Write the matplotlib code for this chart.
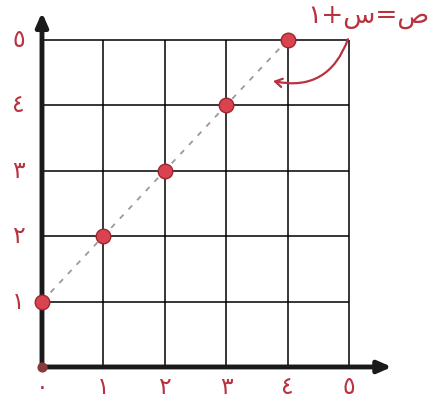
import matplotlib
matplotlib.use('Agg')
import matplotlib.pyplot as plt

# points of y = x + 1 as drawn on the grid
x_vals = [0, 1, 2, 3, 4]
y_vals = [1, 2, 3, 4, 5]
grid_ticks = [0, 1, 2, 3, 4, 5]
tick_labels = ['٠', '١', '٢', '٣', '٤', '٥']
equation = '١+س=ص'   # written in visual order (matplotlib has no bidi)

red = '#b8323f'

fig = plt.figure(figsize=(4.33, 4.04), dpi=100)
ax = fig.add_axes([0, 0, 1, 1])
ax.set_xlim(-0.684, 6.37)
ax.set_ylim(-0.566, 5.61)
ax.axis('off')

# grid cells
ax.vlines(grid_ticks[1:], 0, grid_ticks[-1], color='black', lw=1.1, zorder=1)
ax.hlines(grid_ticks[1:], 0, grid_ticks[-1], color='black', lw=1.1, zorder=1)

# main axes with arrow heads
ax.annotate('', xy=(5.7, 0), xytext=(-0.02, 0),
            arrowprops=dict(arrowstyle='-|>,head_length=0.8,head_width=0.35',
                            color='#1a1a1a', lw=3.5, shrinkA=0, shrinkB=0), zorder=3)
ax.annotate('', xy=(0, 5.42), xytext=(0, -0.02),
            arrowprops=dict(arrowstyle='-|>,head_length=0.8,head_width=0.35',
                            color='#1a1a1a', lw=3.5, shrinkA=0, shrinkB=0), zorder=3)

# dashed line and points
ax.plot(x_vals, y_vals, ls=(0, (3, 4)), color='#9a9a9a', lw=1.3, zorder=2)
ax.scatter(x_vals, y_vals, s=110, color='#d9434f', edgecolor='#9e2530',
           linewidth=1.0, zorder=4)
ax.scatter([0], [0], s=40, color='#8a3a3a', zorder=4)

# tick labels
for t, lab in zip(grid_ticks, tick_labels):
    ax.text(t, -0.3, lab, color=red, fontsize=17, ha='center', va='center',
            family='DejaVu Sans')
    if t > 0:
        ax.text(-0.38, t, lab, color=red, fontsize=17, ha='center', va='center',
                family='DejaVu Sans')

# equation label with curved arrow
ax.text(5.32, 5.36, equation, color=red, fontsize=19, ha='center', va='center',
        family='DejaVu Sans')
ax.annotate('', xy=(3.72, 4.38), xytext=(5.0, 5.05),
            arrowprops=dict(arrowstyle='->,head_length=0.5,head_width=0.3',
                            color=red, lw=1.6,
                            connectionstyle='arc3,rad=-0.45'), zorder=5)

fig.savefig('out.png', dpi=100)
